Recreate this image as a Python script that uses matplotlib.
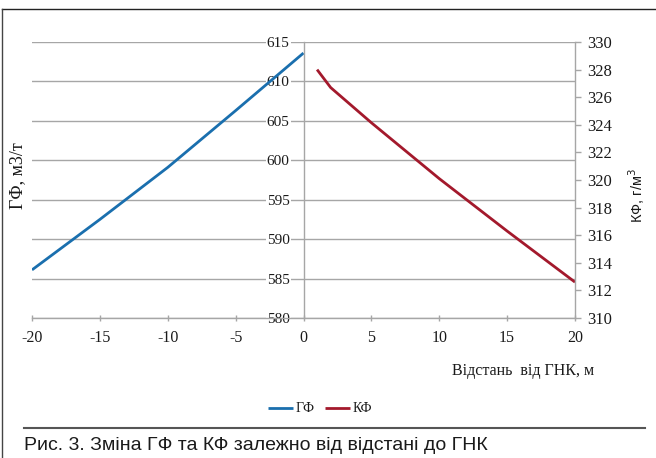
import matplotlib
matplotlib.use("Agg")
import matplotlib.pyplot as plt
from matplotlib.lines import Line2D

plt.rcParams['axes.unicode_minus'] = False

# Data
gf_x = [-20, -15, -10, -5, 0]
gf_y = [586.1, 592.5, 599.1, 606.3, 613.6]
kf_x = [1, 2, 5, 10, 15, 20]
kf_y = [328.0, 326.7, 324.15, 320.1, 316.3, 312.6]

x_ticks = [-20, -15, -10, -5, 0, 5, 10, 15, 20]
left_ticks = [580, 585, 590, 595, 600, 605, 610, 615]
right_ticks = [310, 312, 314, 316, 318, 320, 322, 324, 326, 328, 330]

blue = '#1a6fae'
red = '#a3192c'
grid_c = '#a6a6a6'
txt_c = '#1a1a1a'
serif = ['Liberation Serif', 'DejaVu Serif']
sans = ['Liberation Sans', 'DejaVu Sans']

W, H = 656, 458
fig = plt.figure(figsize=(W / 100, H / 100), dpi=100)
fig.patch.set_facecolor('white')

x0, x1 = 32, 575
y0, y1 = 42, 318
ax = fig.add_axes([x0 / W, 1 - y1 / H, (x1 - x0) / W, (y1 - y0) / H])
ax.set_xlim(-20, 20)
ax.set_ylim(580, 615)
ax.set_axisbelow(True)
ax.patch.set_alpha(0)

ax.set_xticks(x_ticks)
ax.set_yticks(left_ticks)
ax.yaxis.grid(True, color=grid_c, linewidth=1.0)
ax.xaxis.grid(False)

for s in ['top', 'right']:
    ax.spines[s].set_visible(False)
ax.spines['left'].set_position(('data', 0))
ax.spines['left'].set_color(grid_c)
ax.spines['bottom'].set_color(grid_c)
ax.spines['left'].set_linewidth(1.0)
ax.spines['bottom'].set_linewidth(1.0)

ax.tick_params(axis='x', direction='inout', length=5, width=1.0, color=grid_c,
               pad=6, labelsize=11.5, labelcolor=txt_c)
ax.tick_params(axis='y', direction='out', length=0, pad=10,
               labelsize=11, labelcolor=txt_c)
for lab in ax.get_xticklabels() + ax.get_yticklabels():
    lab.set_fontfamily(serif)
for lab in ax.get_yticklabels():
    lab.set_bbox(dict(facecolor='white', edgecolor='none', pad=0.8))

l1, = ax.plot(gf_x, gf_y, color=blue, linewidth=2.0, solid_capstyle='butt', label='ГФ')

ax2 = ax.twinx()
ax2.set_ylim(310, 330)
ax2.set_yticks(right_ticks)
for s in ['top', 'left', 'bottom']:
    ax2.spines[s].set_visible(False)
ax2.spines['right'].set_color(grid_c)
ax2.spines['right'].set_linewidth(1.0)
ax2.tick_params(axis='y', direction='out', length=4, width=1.0, color=grid_c,
                pad=5, labelsize=12, labelcolor=txt_c)
for lab in ax2.get_yticklabels():
    lab.set_fontfamily(serif)
l2, = ax2.plot(kf_x, kf_y, color=red, linewidth=2.0, solid_capstyle='butt', label='КФ')

# Axis titles
fig.text(18 / W, 1 - 176 / H, 'ГФ, м3/т', rotation=90, ha='center', va='center',
         fontsize=13, family=serif, color=txt_c)
fig.text(637 / W, 1 - 196 / H, 'КФ, г/м$^3$', rotation=90, ha='center', va='center',
         fontsize=10.5, family=sans, color=txt_c)
fig.text(523 / W, 1 - 371 / H, 'Відстань  від ГНК, м', ha='center', va='center',
         fontsize=11.5, family=serif, color=txt_c)

# Legend
leg = fig.legend(handles=[l1, l2], loc='center', bbox_to_anchor=(320 / W, 1 - 409 / H),
                 ncol=2, frameon=False, handlelength=1.8, handletextpad=0.15,
                 columnspacing=0.8, prop={'family': serif, 'size': 10})
for t in leg.get_texts():
    t.set_color(txt_c)

# Frame lines
fig.add_artist(Line2D([2 / W, 1], [1 - 9 / H, 1 - 9 / H], color='#222222', linewidth=1.0))
fig.add_artist(Line2D([2 / W, 2 / W], [0, 1 - 9 / H], color='#444444', linewidth=1.0))
fig.add_artist(Line2D([24 / W, 645 / W], [1 - 428 / H, 1 - 428 / H], color='#555555', linewidth=1.5))

# Caption
fig.text(24 / W, 1 - 446 / H, 'Рис. 3. Зміна ГФ та КФ залежно від відстані до ГНК',
         ha='left', va='center', fontsize=14, family=sans, color=txt_c)

fig.savefig('out.png', dpi=100)
